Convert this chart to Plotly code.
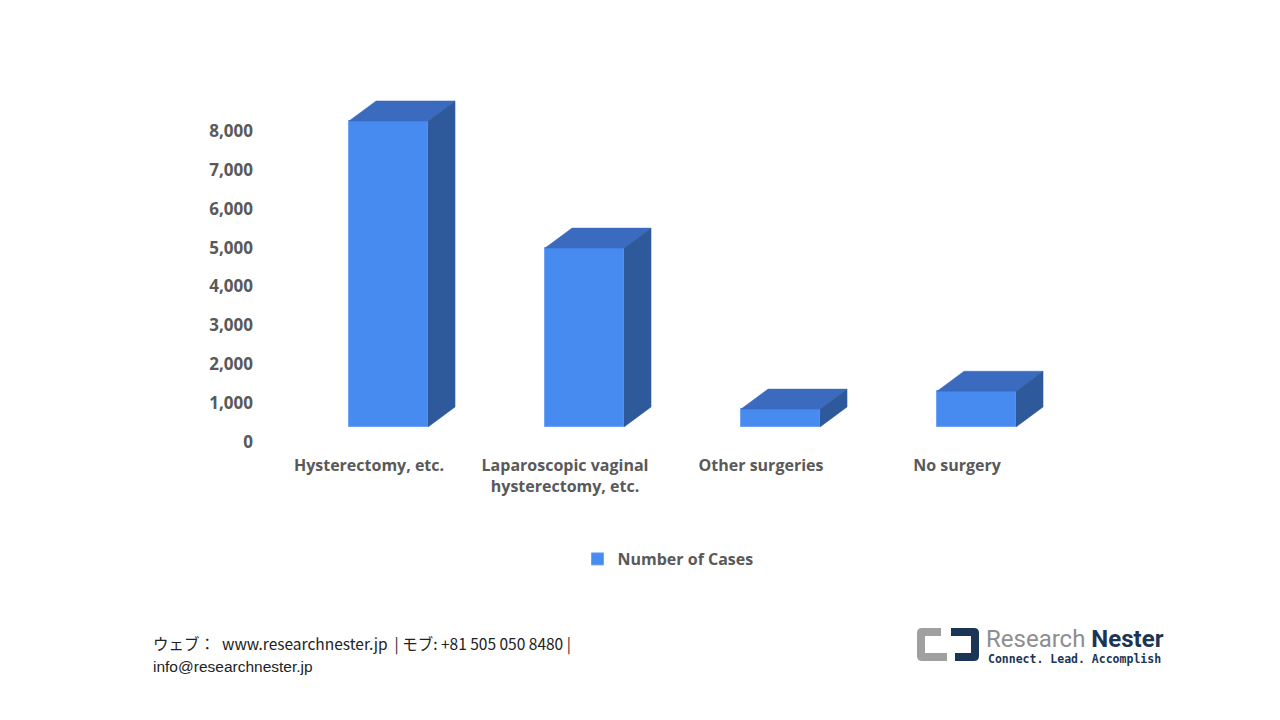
import plotly.graph_objects as go

categories = ["Hysterectomy, etc.", "Laparoscopic vaginal<br>hysterectomy, etc.", "Other surgeries", "No surgery"]
cases = [7870, 4600, 460, 920]
y_ticks = [0, 1000, 2000, 3000, 4000, 5000, 6000, 7000, 8000]

# pseudo 3D geometry (in axis units)
bar_off = -0.102
bar_w = 0.403
depth_x = 0.138
depth_y = 514

front_col = "#478BF0"
top_col = "#3A6BBF"
side_col = "#2E5A9C"
txt_col = "#595959"

# page offset of the figure in the browser
shift = 7
L, T, PW, PH = 270 - shift, 76 - shift, 784, 350

xs = list(range(len(categories)))

fig = go.Figure()

fig.add_trace(go.Bar(
    x=xs, y=cases, width=bar_w, offset=bar_off,
    marker=dict(color=front_col, line=dict(color="#6FA3F5", width=1)),
    name="Number of Cases", showlegend=True,
))

top_x, top_y, side_x, side_y = [], [], [], []
for i, v in zip(xs, cases):
    x0 = i + bar_off
    x1 = x0 + bar_w
    top_x += [x0, x0 + depth_x, x1 + depth_x, x1, x0, None]
    top_y += [v, v + depth_y, v + depth_y, v, v, None]
    side_x += [x1, x1 + depth_x, x1 + depth_x, x1, x1, None]
    side_y += [0, depth_y, v + depth_y, v, 0, None]

fig.add_trace(go.Scatter(x=top_x, y=top_y, fill="toself", fillcolor=top_col, mode="lines",
                         line=dict(width=0.5, color=top_col), showlegend=False, hoverinfo="skip"))
fig.add_trace(go.Scatter(x=side_x, y=side_y, fill="toself", fillcolor=side_col, mode="lines",
                         line=dict(width=0.5, color=side_col), showlegend=False, hoverinfo="skip"))

fig.update_layout(
    width=1280, height=720,
    paper_bgcolor="white", plot_bgcolor="white",
    margin=dict(l=L, r=1280 - L - PW, t=T, b=720 - T - PH),
    font=dict(family="Open Sans", color=txt_col),
    xaxis=dict(range=[-0.5, 3.5], tickvals=xs, ticktext=categories, showgrid=False,
               zeroline=False, showline=False, ticks="", ticklabelstandoff=27,
               tickfont=dict(size=16, weight="bold", color=txt_col)),
    yaxis=dict(range=[0, 9000], tickvals=y_ticks, tickformat=",", showgrid=False,
               zeroline=False, showline=False, ticks="", ticklabelstandoff=17,
               ticklabelshift=15, tickfont=dict(size=17, weight="bold", color=txt_col)),
    legend=dict(orientation="h", xref="container", yref="container", x=(667 - shift) / 1280,
                y=1 - (558 - shift) / 720, xanchor="center", yanchor="middle",
                font=dict(size=16, weight="bold", color=txt_col)),
    bargap=0,
)


def px(x):
    return (x - shift - L) / PW


def py(y):
    return (T + PH - (y - shift)) / PH


# footer
fig.add_annotation(text="ウェブ：  www.researchnester.jp  | モブ: +81 505 050 8480 |",
                   xref="paper", yref="paper", x=px(150), y=py(642),
                   xanchor="left", yanchor="middle", showarrow=False,
                   font=dict(family="Noto Sans CJK JP", size=15.5, color="#222222"))
fig.add_annotation(text="info@researchnester.jp",
                   xref="paper", yref="paper", x=px(150), y=py(665),
                   xanchor="left", yanchor="middle", showarrow=False,
                   font=dict(family="Liberation Sans", size=15.5, color="#222222"))

# logo
fig.add_shape(type="path", xref="paper", yref="paper",
              path=f"M {px(940)},{py(627)} L {px(921)},{py(627)} Q {px(916)},{py(627)} {px(916)},{py(632)} "
                   f"L {px(916)},{py(655)} Q {px(916)},{py(660)} {px(921)},{py(660)} L {px(946)},{py(660)} "
                   f"L {px(946)},{py(652)} L {px(924)},{py(652)} L {px(924)},{py(635)} L {px(940)},{py(635)} Z",
              fillcolor="#A0A0A0", line=dict(width=0))
fig.add_shape(type="path", xref="paper", yref="paper",
              path=f"M {px(950)},{py(627)} L {px(973)},{py(627)} Q {px(978)},{py(627)} {px(978)},{py(632)} "
                   f"L {px(978)},{py(655)} Q {px(978)},{py(660)} {px(973)},{py(660)} L {px(954)},{py(660)} "
                   f"L {px(954)},{py(652)} L {px(970)},{py(652)} L {px(970)},{py(635)} L {px(950)},{py(635)} Z",
              fillcolor="#1B3556", line=dict(width=0))
fig.add_annotation(text="<span style='color:#8E8E8E'>Research</span> <b><span style='color:#1B3556'>Nester</span></b>",
                   xref="paper", yref="paper", x=px(983), y=py(638), xanchor="left", yanchor="middle",
                   showarrow=False, font=dict(family="Liberation Sans Narrow, Roboto", size=24))
fig.add_annotation(text="<b>Connect. Lead. Accomplish</b>",
                   xref="paper", yref="paper", x=px(985), y=py(658), xanchor="left", yanchor="middle",
                   showarrow=False, font=dict(family="DejaVu Sans Mono", size=11.5, color="#1B3556"))

fig.write_html("out.html")
